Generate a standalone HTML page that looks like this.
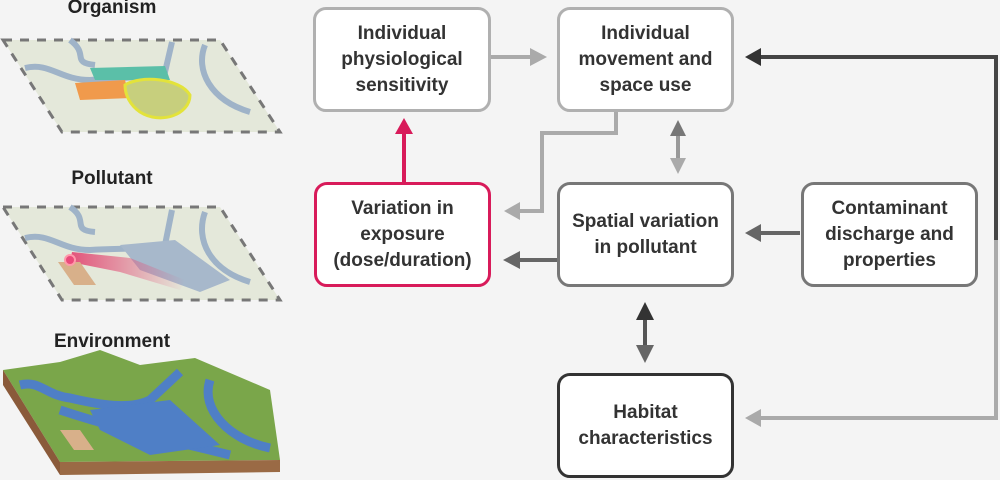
<!DOCTYPE html>
<html><head><style>
body{margin:0;width:1000px;height:480px;background:#f4f4f4;position:relative;overflow:hidden;font-family:"Liberation Sans Narrow","Liberation Sans",sans-serif;}
.b{position:absolute;box-sizing:border-box;background:#fff;border:3px solid #b0b0b0;border-radius:13px;display:flex;align-items:center;justify-content:center;text-align:center;font-weight:bold;font-size:19px;line-height:26px;color:#333;}
.l{position:absolute;font-family:"Liberation Sans",sans-serif;font-weight:bold;font-size:19px;color:#222;width:224px;text-align:center;left:0;}
</style></head><body>
<svg width="1000" height="480" style="position:absolute;left:0;top:0">
<defs>
<linearGradient id="pg" x1="0" x2="1" y1="0" y2="0"><stop offset="0" stop-color="#e2537a"/><stop offset="1" stop-color="#e2537a" stop-opacity="0"/></linearGradient>
</defs>
<!-- organism -->
<polygon points="3,40 220,40 280,132 62,132" fill="#e4e8da" stroke="#777" stroke-width="3" stroke-dasharray="9,8"/>
<path d="M25,68 C50,62 60,80 90,80 C120,78 140,78 165,72 L172,42 M205,45 C195,70 210,100 250,112 M70,40 C90,55 70,62 95,65" fill="none" stroke="#9fb3c8" stroke-width="6"/>
<path d="M90,68 L165,66 L170,80 L95,80Z" fill="#5bbfa8"/>
<path d="M75,83 L125,80 L130,98 L80,100Z" fill="#f09a4c"/>
<path d="M125,85 C140,75 180,78 190,95 C190,115 160,125 140,112 C130,105 125,95 125,85Z" fill="#c7cf7d" stroke="#e3e33a" stroke-width="3"/>
<!-- pollutant -->
<polygon points="3,207 220,207 280,300 62,300" fill="#e4e8da" stroke="#777" stroke-width="3" stroke-dasharray="9,8"/>
<path d="M25,238 C50,232 60,250 90,250 C120,248 140,250 165,245 L172,210 M205,212 C195,240 210,270 250,282 M70,207 C90,220 70,230 95,232" fill="none" stroke="#9fb3c8" stroke-width="6"/>
<path d="M120,245 L175,240 L230,280 L200,292 L140,270Z" fill="#a7b8cb"/>
<path d="M72,252 L130,258 L185,280 L180,290 L120,272 L70,262Z" fill="url(#pg)"/>
<polygon points="58,262 80,262 96,285 74,285" fill="#d8b08a"/>
<circle cx="70" cy="260" r="5" fill="#ea4a7a" stroke="#f9a" stroke-width="2"/>
<!-- environment -->
<polygon points="3,370 60,362 100,350 140,365 195,358 270,390 280,460 60,462" fill="#7aa64a"/>
<polygon points="3,370 60,462 60,475 3,385" fill="#8a5a3a"/>
<polygon points="60,462 280,460 280,472 60,475" fill="#9a6a45"/>
<path d="M20,385 C40,380 45,395 70,398 C100,405 130,410 150,400 L180,372 M210,380 C200,410 230,440 270,448 M60,410 C120,430 170,440 230,455" fill="none" stroke="#4f7fc6" stroke-width="9"/>
<path d="M90,410 L170,400 L220,445 L150,455 L100,430Z" fill="#4f7fc6"/>
<polygon points="60,430 80,430 94,450 74,450" fill="#d8b08a"/>
<!-- connectors -->
<g fill="none" stroke-width="4">
<line x1="490" y1="57" x2="530" y2="57" stroke="#aaa"/>
<polyline points="616,112 616,133 542,133 542,211 518,211" stroke="#aaa"/>
<line x1="404" y1="182" x2="404" y2="130" stroke="#d81b5a"/>
<line x1="678" y1="130" x2="678" y2="162" stroke="#999"/>
<line x1="557" y1="260" x2="518" y2="260" stroke="#666"/>
<line x1="800" y1="233" x2="758" y2="233" stroke="#666"/>
<line x1="645" y1="314" x2="645" y2="350" stroke="#555"/>
<polyline points="758,57 996,57 996,240" stroke="#444"/>
<polyline points="996,240 996,418 758,418" stroke="#aaa"/>
</g>
<polygon points="547,57 530,48 530,66" fill="#aaa"/>
<polygon points="504,211 520,202 520,220" fill="#aaa"/>
<polygon points="404,118 395,134 413,134" fill="#d81b5a"/>
<polygon points="678,120 670,136 686,136" fill="#777"/>
<polygon points="678,174 670,158 686,158" fill="#aaa"/>
<polygon points="503,260 520,251 520,269" fill="#666"/>
<polygon points="745,233 761,224 761,242" fill="#666"/>
<polygon points="645,302 636,320 654,320" fill="#333"/>
<polygon points="645,363 636,345 654,345" fill="#666"/>
<polygon points="745,57 761,48 761,66" fill="#333"/>
<polygon points="745,418 761,409 761,427" fill="#aaa"/>
</svg>
<div class="l" style="top:-3px">Organism</div>
<div class="l" style="top:168px">Pollutant</div>
<div class="l" style="top:331px">Environment</div>
<div class="b" style="left:313px;top:7px;width:178px;height:105px">Individual<br>physiological<br>sensitivity</div>
<div class="b" style="left:557px;top:7px;width:177px;height:105px">Individual<br>movement and<br>space use</div>
<div class="b" style="left:314px;top:182px;width:177px;height:105px;border-color:#d81b5a">Variation in<br>exposure<br>(dose/duration)</div>
<div class="b" style="left:557px;top:182px;width:177px;height:105px;border-color:#777">Spatial variation<br>in pollutant</div>
<div class="b" style="left:801px;top:182px;width:177px;height:105px;border-color:#777">Contaminant<br>discharge and<br>properties</div>
<div class="b" style="left:557px;top:373px;width:177px;height:105px;border-color:#333">Habitat<br>characteristics</div>
</body></html>
